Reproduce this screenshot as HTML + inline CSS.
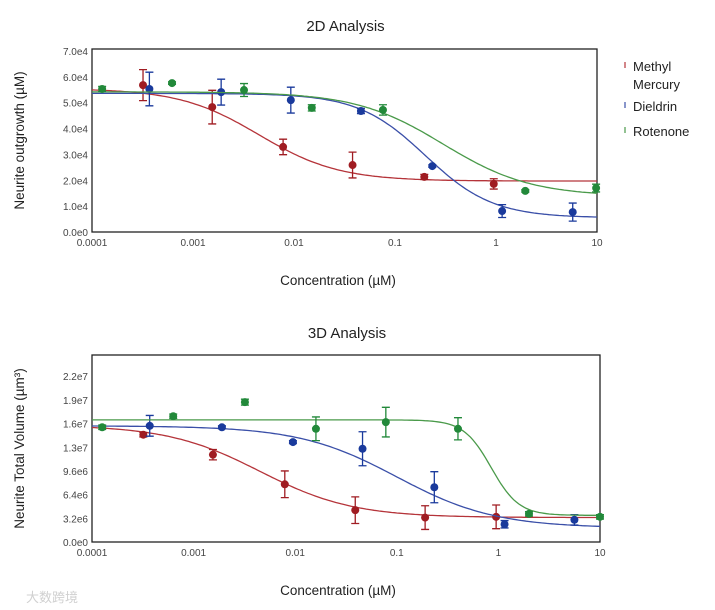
<!DOCTYPE html>
<html><head><meta charset="utf-8">
<style>
html,body{margin:0;padding:0;background:#fff;}
svg{display:block;font-family:"Liberation Sans","Noto Sans CJK SC",sans-serif;}
</style></head>
<body>
<svg id="chart" width="715" height="610" viewBox="0 0 715 610"></svg>
<script>
// ---- data: 2D analysis (concentration µM, value, error) ----
const conc2dRed = [0.00032, 0.00155, 0.0078, 0.038, 0.195, 0.95];
const val2dRed = [56800, 48300, 32900, 25900, 21300, 18600];
const err2dRed = [6000, 6500, 3000, 5000, 1000, 2000];
const conc2dBlue = [0.00037, 0.0019, 0.0093, 0.046, 0.234, 1.15, 5.75];
const val2dBlue = [55300, 54100, 51000, 46800, 25500, 8100, 7700];
const err2dBlue = [6500, 5000, 5000, 1000, 500, 2500, 3500];
const conc2dGreen = [0.000126, 0.00062, 0.0032, 0.015, 0.076, 1.95, 9.8];
const val2dGreen = [55300, 57600, 54900, 48000, 47200, 15900, 17000];
const err2dGreen = [1000, 500, 2500, 1200, 2000, 500, 1500];
// curve params [top, bottom, ic50, hill]
const fit2dRed = [55500, 19700, 0.0045, 1.1];
const fit2dBlue = [53600, 5500, 0.2, 1.3];
const fit2dGreen = [54200, 13800, 0.3, 1.0];
const yTicks2d = [0, 10000, 20000, 30000, 40000, 50000, 60000, 70000];
const yTickLabels2d = ["0.0e0","1.0e4","2.0e4","3.0e4","4.0e4","5.0e4","6.0e4","7.0e4"];
// ---- data: 3D analysis ----
const conc3dRed = [0.00032, 0.00155, 0.0079, 0.039, 0.19, 0.95];
const val3dRed = [14500000, 11800000, 7800000, 4300000, 3300000, 3400000];
const err3dRed = [300000, 700000, 1800000, 1800000, 1600000, 1600000];
const conc3dBlue = [0.00037, 0.0019, 0.0095, 0.046, 0.234, 1.15, 5.6];
const val3dBlue = [15700000, 15500000, 13500000, 12600000, 7400000, 2400000, 3000000];
const err3dBlue = [1400000, 200000, 200000, 2300000, 2100000, 500000, 700000];
const conc3dGreen = [0.000126, 0.00063, 0.0032, 0.016, 0.078, 0.4, 2.0, 10];
const val3dGreen = [15500000, 17000000, 18900000, 15300000, 16200000, 15300000, 3800000, 3400000];
const err3dGreen = [300000, 300000, 400000, 1600000, 2000000, 1500000, 300000, 300000];
const fit3dRed = [15800000, 3300000, 0.0045, 0.95];
const fit3dBlue = [15700000, 1900000, 0.1, 0.9];
const fit3dGreen = [16500000, 3600000, 0.85, 3.2];
const yTicks3d = [0, 3200000, 6400000, 9600000, 12800000, 16000000, 19200000, 22400000];
const yTickLabels3d = ["0.0e0","3.2e6","6.4e6","9.6e6","1.3e7","1.6e7","1.9e7","2.2e7"];
const xTicks = [0.0001, 0.001, 0.01, 0.1, 1, 10];
const xTickLabels = ["0.0001","0.001","0.01","0.1","1","10"];
const seriesNames = ["Methyl Mercury", "Dieldrin", "Rotenone"];

const NS = "http://www.w3.org/2000/svg";
const svg = document.getElementById("chart");
const COL = {red:"#a01c22", blue:"#1a3a9c", green:"#22893a"};
const LINE = {red:"#b5343a", blue:"#3a4fa8", green:"#4a9a4a"};
function mk(tag, attrs, parent){const e=document.createElementNS(NS,tag);for(const k in attrs)e.setAttribute(k,attrs[k]);(parent||svg).appendChild(e);return e;}
function txt(s, attrs, parent){const t=mk("text",attrs,parent);t.textContent=s;return t;}

function panel(cfg){
  const g = mk("g",{});
  
  
  const L=cfg.left,R=cfg.right,T=cfg.top,B=cfg.bottom;
  const xs = c => L + (Math.log10(c)+4)/5*(R-L);
  const ys = v => cfg.y0 - v*cfg.ppu;
  const title = txt(cfg.title,{x:(L+R)/2+1,y:cfg.titleY,"text-anchor":"middle","font-size":15,fill:"#222"},g);
  
  
  const frame = mk("rect",{x:L,y:T,width:R-L,height:B-T,fill:"none",stroke:"#222","stroke-width":1.3},g);
  
  
  cfg.yTicks.forEach((v,i)=>{
    const t = txt(cfg.yLabels[i],{x:L-4,y:ys(v)+4,"text-anchor":"end","font-size":10,fill:"#444"},g);
    
    
  });
  xTicks.forEach((c,i)=>{
    const t = txt(xTickLabels[i],{x:xs(c),y:B+14,"text-anchor":"middle","font-size":10,fill:"#444"},g);
    
    
  });
  const xl = txt("Concentration (µM)",{x:338,y:cfg.xTitleY,"text-anchor":"middle","font-size":13.5,fill:"#222"},g);
  
  
  const yl = txt(cfg.yTitle,{x:0,y:0,"text-anchor":"middle","font-size":13.5,fill:"#222",transform:`translate(24,${(T+B)/2}) rotate(-90)`},g);
  
  
  cfg.series.forEach(s=>{
    const sg = mk("g",{},g);
    
    
    const [top,bot,ic,h]=s.fit;
    let d="";
    for(let i=0;i<=200;i++){
      const lc=-4+5*i/200, c=Math.pow(10,lc);
      const v=bot+(top-bot)/(1+Math.pow(c/ic,h));
      d+=(i?"L":"M")+xs(c).toFixed(1)+","+ys(v).toFixed(1);
    }
    const p = mk("path",{d:d,fill:"none",stroke:LINE[s.key],"stroke-width":1.3},sg);
    
    
    s.conc.forEach((c,i)=>{
      const x=xs(c), y=ys(s.val[i]), e=s.err[i];
      const y1=ys(s.val[i]+e), y2=ys(s.val[i]-e);
      const eb = mk("path",{d:`M${x},${y1}L${x},${y2}M${x-4},${y1}L${x+4},${y1}M${x-4},${y2}L${x+4},${y2}`,stroke:COL[s.key],"stroke-width":1.3,fill:"none"},sg);
      
      
      const pt = mk("circle",{cx:x,cy:y,r:4,fill:COL[s.key]},sg);
      
      
    });
  });
}

panel({name:"panel-2d",title:"2D Analysis",titleY:31,left:92,right:597,top:49,bottom:232,y0:232,ppu:181/70000,
  yTicks:yTicks2d,yLabels:yTickLabels2d,xTitleY:285,yTitle:"Neurite outgrowth (µM)",
  series:[
    {key:"red",conc:conc2dRed,val:val2dRed,err:err2dRed,fit:fit2dRed},
    {key:"blue",conc:conc2dBlue,val:val2dBlue,err:err2dBlue,fit:fit2dBlue},
    {key:"green",conc:conc2dGreen,val:val2dGreen,err:err2dGreen,fit:fit2dGreen}]});
panel({name:"panel-3d",title:"3D Analysis",titleY:338,left:92,right:600,top:355,bottom:542,y0:542,ppu:7.4/1000000,
  yTicks:yTicks3d,yLabels:yTickLabels3d,xTitleY:595,yTitle:"Neurite Total Volume (µm³)",
  series:[
    {key:"red",conc:conc3dRed,val:val3dRed,err:err3dRed,fit:fit3dRed},
    {key:"blue",conc:conc3dBlue,val:val3dBlue,err:err3dBlue,fit:fit3dBlue},
    {key:"green",conc:conc3dGreen,val:val3dGreen,err:err3dGreen,fit:fit3dGreen}]});

// legend
const lg = mk("g",{});


const legendKeys=["red","blue","green"], legendY=[[71,89],[111],[136]];
legendKeys.forEach((k,i)=>{
  const e = mk("g",{},lg);
  
  
  const y0=legendY[i][0];
  mk("line",{x1:625,y1:y0-9,x2:625,y2:y0-3,stroke:LINE[k],"stroke-width":1.2},e);
  if(i===0){
    txt("Methyl",{x:633,y:71,"font-size":13,fill:"#222"},e);
    txt("Mercury",{x:633,y:89,"font-size":13,fill:"#222"},e);
  } else {
    txt(seriesNames[i],{x:633,y:y0,"font-size":13,fill:"#222"},e);
  }
});
const wm = txt("大数跨境",{x:26,y:602,"font-size":13,fill:"#d0d0d0"});


</script>
</body></html>
